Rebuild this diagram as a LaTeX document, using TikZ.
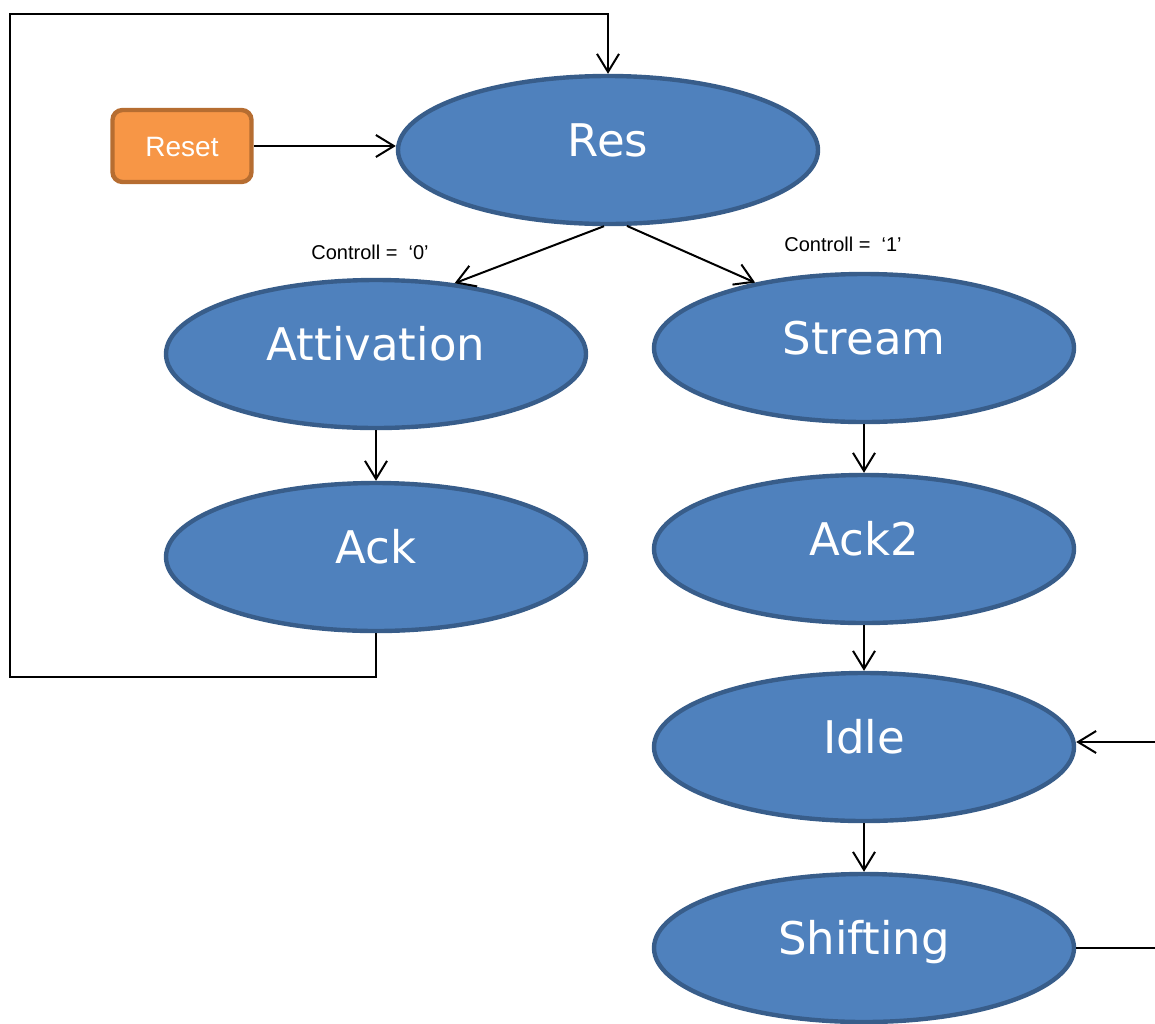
\documentclass[tikz,border=0pt]{standalone}
\usepackage{fontspec}
\setmainfont{DejaVu Sans}
\newfontfamily\smallfont{Liberation Sans}
\usepackage{tikz}
\usetikzlibrary{shapes.geometric,arrows.meta}

\definecolor{statefill}{HTML}{4F81BD}
\definecolor{stateline}{HTML}{385D8A}
\definecolor{resetfill}{HTML}{F79646}
\definecolor{resetline}{HTML}{B66D31}

\begin{document}
\begin{tikzpicture}
  [x=0.5pt,y=-0.5pt,
   every node/.style={draw=stateline,fill=statefill,ellipse,line width=2.2pt,
     minimum width=210pt,minimum height=74pt,inner sep=0pt,text=white,
     font=\fontsize{22.5}{24}\selectfont,text height=19pt,text depth=13pt}]

  \tikzstyle{reset} = [rectangle,rounded corners=5pt,draw=resetline,fill=resetfill,
    minimum width=69.5pt,minimum height=36pt,
    font=\smallfont\fontsize{14}{16}\selectfont,text height=10pt,text depth=0pt]
  \tikzstyle{cond} = [draw=none,fill=none,minimum size=0pt,text=black,
    font=\smallfont\fontsize{10}{12}\selectfont,text height=7pt,text depth=2pt]

  \useasboundingbox (0,0) rectangle (1155,1023);
  \clip (0,0) rectangle (1155,1023);

  \node[reset] (0) at (182,146) {Reset};
  \node        (1) at (608,150) {Res};
  \node        (2) at (376,354) {Attivation};
  \node        (3) at (864,348) {Stream};
  \node        (4) at (376,557) {Ack};
  \node        (5) at (864,549) {Ack2};
  \node        (6) at (864,747) {Idle};
  \node        (7) at (864,948) {Shifting};

  \node[cond] (c0) at (370,254) {Controll = \ ‘0’};
  \node[cond] (c1) at (843,246) {Controll = \ ‘1’};

  \path[->, >={Straight Barb[length=9pt,width=11pt]}, line width=1pt]
        (0.east) edge (1.west |- 0.east)
        (1.267)  edge (2.42)
        (1.284)  edge (3.149)
        (2)      edge (4)
        (3)      edge (5)
        (5)      edge (6)
        (6)      edge (7);

  \draw[->, >={Straight Barb[length=9pt,width=11pt]}, line width=1pt]
        (4.south) -- ++(0,44) -| (10,14) -| (1.north);
  \draw[->, >={Straight Barb[length=9pt,width=11pt]}, line width=1pt]
        (7.east) -- ++(100,0) |- ([yshift=2.5pt]6.east);
\end{tikzpicture}
\end{document}
